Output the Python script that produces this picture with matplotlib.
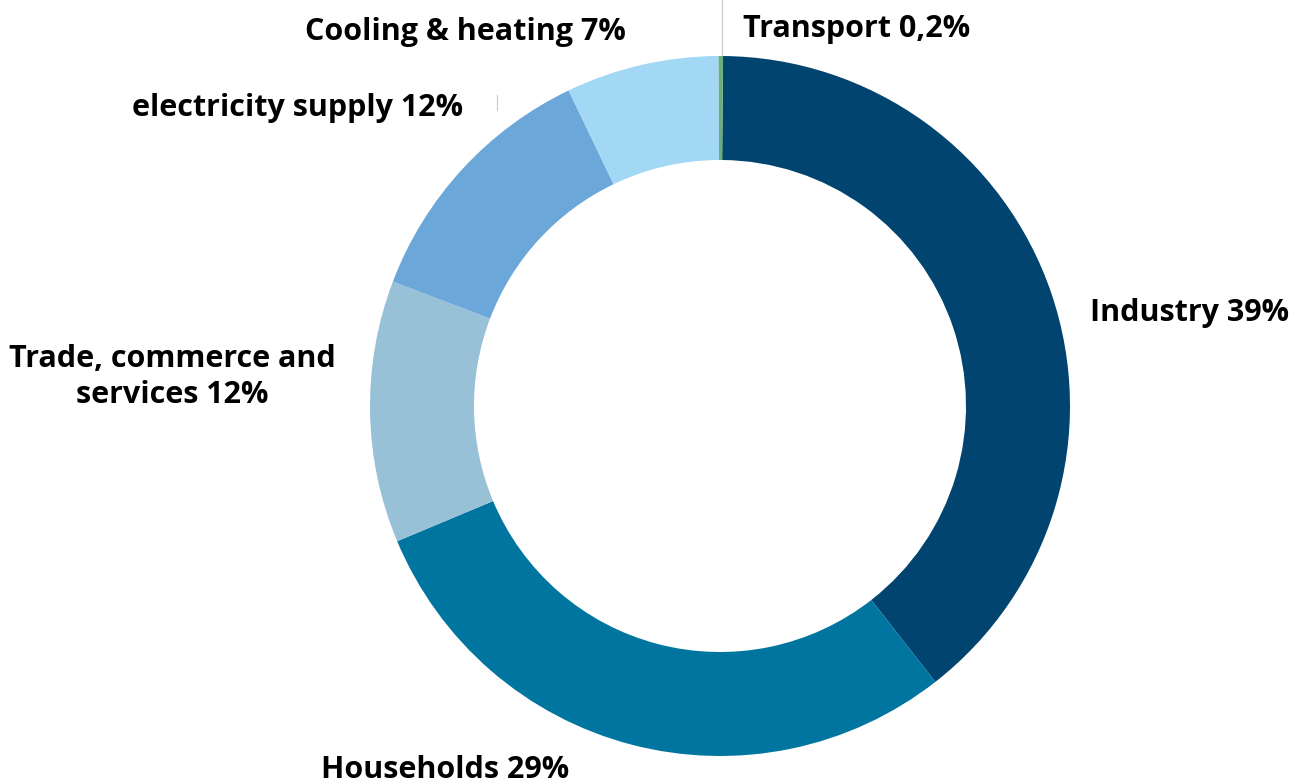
import matplotlib.pyplot as plt

# -----------------------------
# Data
# -----------------------------
sectors = ["Industry", "Households", "Trade, commerce and\nservices", "electricity supply",
           "Cooling & heating", "Transport"]
shares = [39, 29, 12, 12, 7, 0.2]
share_labels = ["39%", "29%", "12%", "12%", "7%", "0,2%"]
colors = ["#00446F", "#0075A0", "#98C0D6", "#6CA7DA", "#A3D8F5", "#6AAE7A"]

W, H = 1295, 784

fig = plt.figure(figsize=(W / 100, H / 100), dpi=100)
ax = fig.add_axes([0, 0, 1, 1])

ax.pie(shares, colors=colors, startangle=89.5, counterclock=False,
       center=(720, H - 406), radius=350,
       wedgeprops=dict(width=104, edgecolor="none"))

# pie() resets the limits, so set them afterwards
ax.set_xlim(0, W)
ax.set_ylim(0, H)
ax.set_aspect("equal")
ax.axis("off")

# label positions in pixel coords (x, y from top)
pos = {
    "Industry": (1190, 313, "center"),
    "Households": (445, 770, "center"),
    "Trade, commerce and\nservices": (172, 377, "center"),
    "electricity supply": (298, 108, "center"),
    "Cooling & heating": (465, 32, "center"),
    "Transport": (743, 29, "left"),
}
font = dict(family=["Open Sans", "DejaVu Sans"], fontsize=22, fontweight="bold", color="black")
for name, lab in zip(sectors, share_labels):
    x, y, ha = pos[name]
    ax.text(x, H - y, f"{name} {lab}", ha=ha, va="center", multialignment="center",
            linespacing=1.25, **font)

# thin leader lines
ax.plot([722, 722], [H - 0, H - 55], color="#c8c8c8", lw=0.8)
ax.plot([497, 497], [H - 95, H - 110], color="#c8c8c8", lw=0.8)

fig.savefig("out.png", dpi=100)
